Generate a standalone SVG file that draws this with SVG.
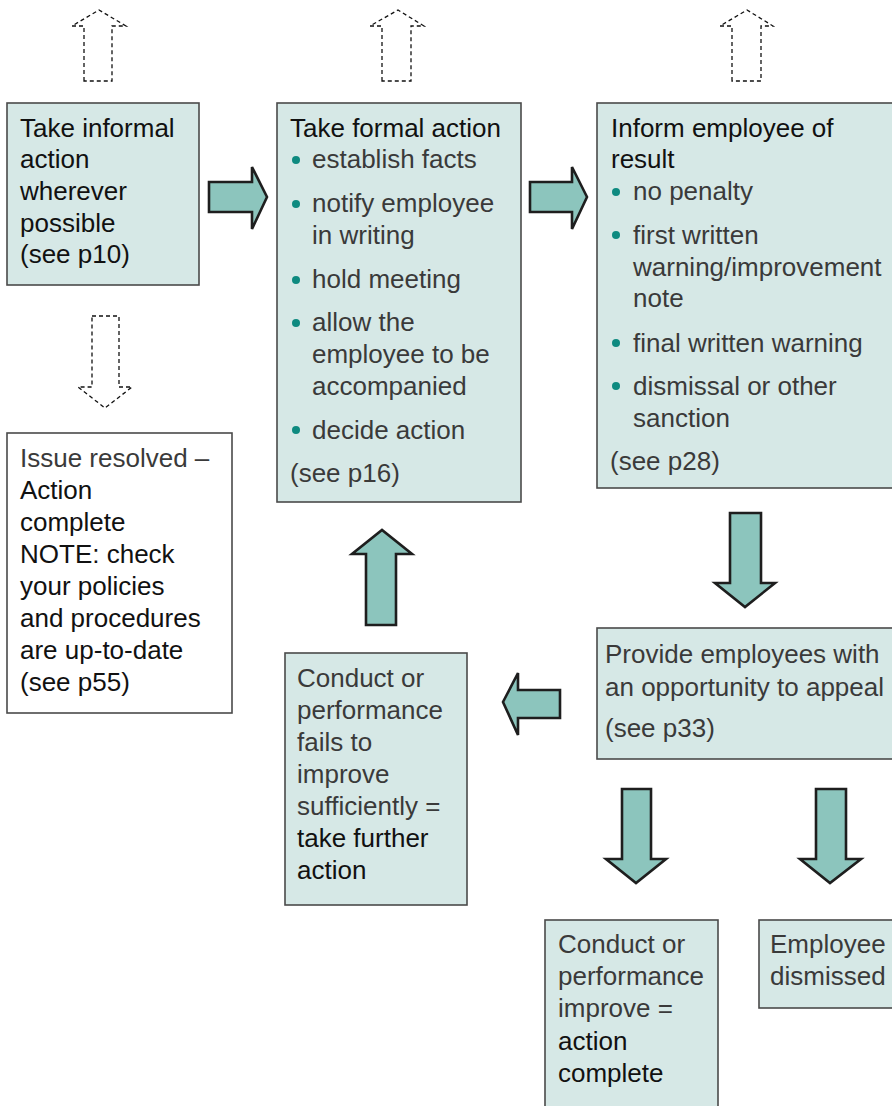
<svg xmlns="http://www.w3.org/2000/svg" width="892" height="1106" viewBox="0 0 892 1106">
<style>
.box{fill:#d6e8e6;stroke:#4a4a4a;stroke-width:1.6}
.wbox{fill:#ffffff;stroke:#4a4a4a;stroke-width:1.6}
.arr{fill:#8cc5bd;stroke:#1e1e1e;stroke-width:2.6;stroke-linejoin:miter}
.darr{fill:#ffffff;stroke:#111;stroke-width:1.3;stroke-dasharray:4 3}
text{font-family:"Liberation Sans",Arial,sans-serif;font-size:26px}
.lt{fill:#3a3a3a}
.rg{fill:#111111}
.dot{fill:#0e8a80}
</style>
<g id="connectors">
<polygon class="darr" points="84,81 84,26 72,26 99,10 126,26 112,26 112,81"/>
<polygon class="darr" points="382,81 382,26 370,26 398,10 424,26 411,26 411,81"/>
<polygon class="darr" points="732,81 732,26 720,26 747,10 773,26 761,26 761,81"/>
<polygon class="darr" points="92,316 119,316 119,387 132,387 105,408 78,387 92,387"/>
<polygon class="arr" points="209,182 252,182 252,167 267,197 252,229 252,212 209,212"/>
<polygon class="arr" points="530,182 572,182 572,167 587,197 572,229 572,212 530,212"/>
<polygon class="arr" points="730,513 761,513 761,583 775,583 745,607 715,583 730,583"/>
<polygon class="arr" points="560,690 518,690 518,673 503,702 518,735 518,718 560,718"/>
<polygon class="arr" points="366,625 366,554 352,554 382,530 412,554 396,554 396,625"/>
<polygon class="arr" points="622,789 651,789 651,859 666,859 636,883 606,859 622,859"/>
<polygon class="arr" points="816,789 846,789 846,859 861,859 830,883 800,859 816,859"/>
</g>
<g id="informal">
<rect class="box" x="7" y="103" width="192" height="182"/>
<text class="rg" x="20" y="137">Take informal</text>
<text class="rg" x="20" y="168">action</text>
<text class="rg" x="20" y="200">wherever</text>
<text class="rg" x="20" y="232">possible</text>
<text class="rg" x="20" y="263">(see p10)</text>
</g>
<g id="formal">
<rect class="box" x="277" y="103" width="244" height="399"/>
<text class="rg" x="290" y="137">Take formal action</text>
<circle class="dot" cx="296" cy="160" r="4"/>
<text class="lt" x="312" y="168">establish facts</text>
<circle class="dot" cx="296" cy="204" r="4"/>
<text class="lt" x="312" y="212">notify employee</text>
<text class="lt" x="312" y="244">in writing</text>
<circle class="dot" cx="296" cy="280" r="4"/>
<text class="lt" x="312" y="288">hold meeting</text>
<circle class="dot" cx="296" cy="323" r="4"/>
<text class="lt" x="312" y="331">allow the</text>
<text class="lt" x="312" y="363">employee to be</text>
<text class="lt" x="312" y="395">accompanied</text>
<circle class="dot" cx="296" cy="430" r="4"/>
<text class="lt" x="312" y="439">decide action</text>
<text class="lt" x="290" y="482">(see p16)</text>
</g>
<g id="inform">
<rect class="box" x="597" y="103" width="300" height="385"/>
<text class="rg" x="611" y="137">Inform employee of</text>
<text class="rg" x="611" y="168">result</text>
<circle class="dot" cx="616" cy="192" r="4"/>
<text class="lt" x="633" y="200">no penalty</text>
<circle class="dot" cx="616" cy="235" r="4"/>
<text class="lt" x="633" y="244">first written</text>
<text class="lt" x="633" y="276">warning/improvement</text>
<text class="lt" x="633" y="307">note</text>
<circle class="dot" cx="616" cy="343" r="4"/>
<text class="lt" x="633" y="352">final written warning</text>
<circle class="dot" cx="616" cy="386" r="4"/>
<text class="lt" x="633" y="395">dismissal or other</text>
<text class="lt" x="633" y="427">sanction</text>
<text class="lt" x="610" y="470">(see p28)</text>
</g>
<g id="resolved">
<rect class="wbox" x="7" y="433" width="225" height="280"/>
<text class="lt" x="20" y="467">Issue resolved –</text>
<text class="rg" x="20" y="499">Action</text>
<text class="rg" x="20" y="531">complete</text>
<text class="rg" x="20" y="563">NOTE: check</text>
<text class="rg" x="20" y="595">your policies</text>
<text class="rg" x="20" y="627">and procedures</text>
<text class="rg" x="20" y="659">are up-to-date</text>
<text class="rg" x="20" y="691">(see p55)</text>
</g>
<g id="appeal">
<rect class="box" x="597" y="628" width="300" height="131"/>
<text class="lt" x="605" y="663">Provide employees with</text>
<text class="lt" x="605" y="696">an opportunity to appeal</text>
<text class="lt" x="605" y="737">(see p33)</text>
</g>
<g id="fails">
<rect class="box" x="285" y="653" width="182" height="252"/>
<text class="lt" x="297" y="687">Conduct or</text>
<text class="lt" x="297" y="719">performance</text>
<text class="lt" x="297" y="751">fails to</text>
<text class="lt" x="297" y="783">improve</text>
<text class="lt" x="297" y="815">sufficiently =</text>
<text class="rg" x="297" y="847">take further</text>
<text class="rg" x="297" y="879">action</text>
</g>
<g id="improve">
<rect class="box" x="545" y="920" width="173" height="200"/>
<text class="lt" x="558" y="953">Conduct or</text>
<text class="lt" x="558" y="985">performance</text>
<text class="lt" x="558" y="1017">improve =</text>
<text class="rg" x="558" y="1050">action</text>
<text class="rg" x="558" y="1082">complete</text>
</g>
<g id="dismissed">
<rect class="box" x="759" y="920" width="140" height="88"/>
<text class="lt" x="770" y="953">Employee</text>
<text class="lt" x="770" y="985">dismissed</text>
</g>
</svg>
